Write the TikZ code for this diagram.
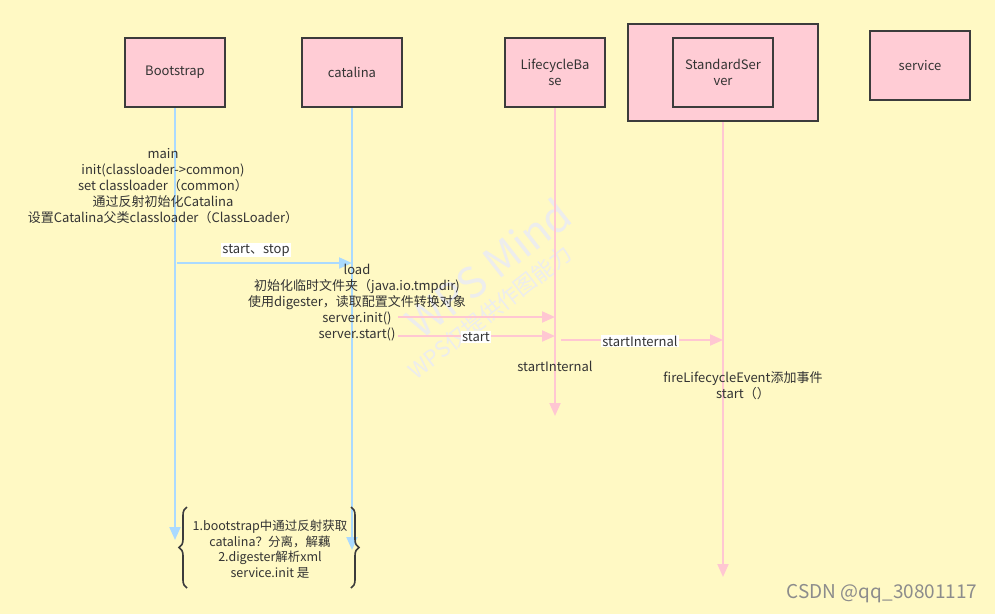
\documentclass[tikz,border=0pt]{standalone}
\usepackage{fontspec}
\setmainfont{Noto Sans CJK SC}
\usetikzlibrary{arrows.meta,decorations.pathreplacing}
\definecolor{bg}{RGB}{255,249,196}
\definecolor{boxfill}{RGB}{255,204,213}
\definecolor{boxline}{RGB}{60,60,60}
\definecolor{blueline}{RGB}{170,218,255}
\definecolor{pinkline}{RGB}{255,199,210}
\definecolor{txt}{RGB}{51,51,51}
\tikzset{
  obj/.style={draw=boxline,line width=2pt,fill=boxfill,minimum width=100pt,minimum height=69pt,align=center,text=txt,font=\fontsize{13}{16}\selectfont,inner sep=2pt},
  blife/.style={draw=blueline,line width=2pt,-{Triangle[length=13pt,width=11pt]}},
  plife/.style={draw=pinkline,line width=2pt,-{Triangle[length=13pt,width=11pt]}},
  lbl/.style={text=txt,font=\fontsize{13}{16}\selectfont,align=center,inner sep=1pt},
  wlbl/.style={lbl,fill=white,inner sep=1pt},
  bracestyle/.style={draw=boxline,line width=1.6pt,decorate,decoration={brace,amplitude=8pt}},
}
\begin{document}
\begin{tikzpicture}[x=1pt,y=-1pt]
\fill[bg] (0,0) rectangle (995,614);
\useasboundingbox (0,0) rectangle (995,614);
% watermarks
\node[text=black!7,font=\fontsize{42}{42}\selectfont,rotate=38] (wm1) at (488,268) {WPS Mind};
\node[text=black!7,font=\fontsize{22}{22}\selectfont,rotate=38] (wm2) at (490,312) {WPS仅提供作图能力};
% objects
\node[obj] (boot) at (175,72.5) {Bootstrap};
\node[obj] (cat) at (352,72.5) {catalina};
\node[obj] (lb) at (555,72.5) {LifecycleBa\\se};
\node[obj,minimum width=190pt,minimum height=97pt] (outer) at (723,72.5) {};
\node[obj] (ss) at (723,72) {StandardSer\\ver};
\node[obj] (svc) at (920,65.5) {service};
% lifeline ends
\coordinate (bootend) at (175,540);
\coordinate (catend) at (352,550);
\coordinate (lbend) at (555,416);
\coordinate (ssend) at (723,577);
\draw[blife] (boot.south) -- (bootend);
\draw[blife] (cat.south) -- (catend);
\draw[plife] (lb.south) -- (lbend);
\draw[plife] (outer.south) -- (ssend);
% main text
\node[lbl] (maintxt) at (163,186) {main\\init(classloader->common)\\set classloader（common）\\通过反射初始化Catalina\\设置Catalina父类classloader（ClassLoader）};
% start stop
\coordinate (m1s) at (177,263);
\coordinate (m1e) at (352,263);
\draw[blife] (m1s) -- (m1e);
\node[wlbl] (m1l) at (256,250) {start、stop};
% load text
\node[lbl] (loadtxt) at (357,303) {load\\初始化临时文件夹（java.io.tmpdir)\\使用digester，读取配置文件转换对象\\server.init()\\server.start()};
\coordinate (m2s) at (398,317);
\coordinate (m2e) at (555,317);
\draw[plife] (m2s) -- (m2e);
\coordinate (m3s) at (398,336);
\coordinate (m3e) at (555,336);
\draw[plife] (m3s) -- (m3e);
\node[wlbl] (m3l) at (476,337) {start};
\coordinate (m4s) at (561,340);
\coordinate (m4e) at (723,340);
\draw[plife] (m4s) -- (m4e);
\node[wlbl] (m4l) at (640,341) {startInternal};
\node[lbl] (si) at (555,366) {startInternal};
\node[lbl] (fire) at (743,386) {fireLifecycleEvent添加事件\\start（）};
% note
\node[lbl,font=\fontsize{12.5}{15.5}\selectfont] (note) at (270,549) {1.bootstrap中通过反射获取\\catalina？分离，解藕\\2.digester解析xml\\service.init 是};
\coordinate (lb1) at (187,588);
\coordinate (lb2) at (187,507);
\draw[bracestyle] (lb1) -- (lb2);
\coordinate (rb1) at (351,507);
\coordinate (rb2) at (351,588);
\draw[bracestyle] (rb1) -- (rb2);
\node[text=black!45,font=\fontsize{19}{19}\selectfont,anchor=east] (csdn) at (981,594) {CSDN @qq\_30801117};
\end{tikzpicture}
\end{document}
